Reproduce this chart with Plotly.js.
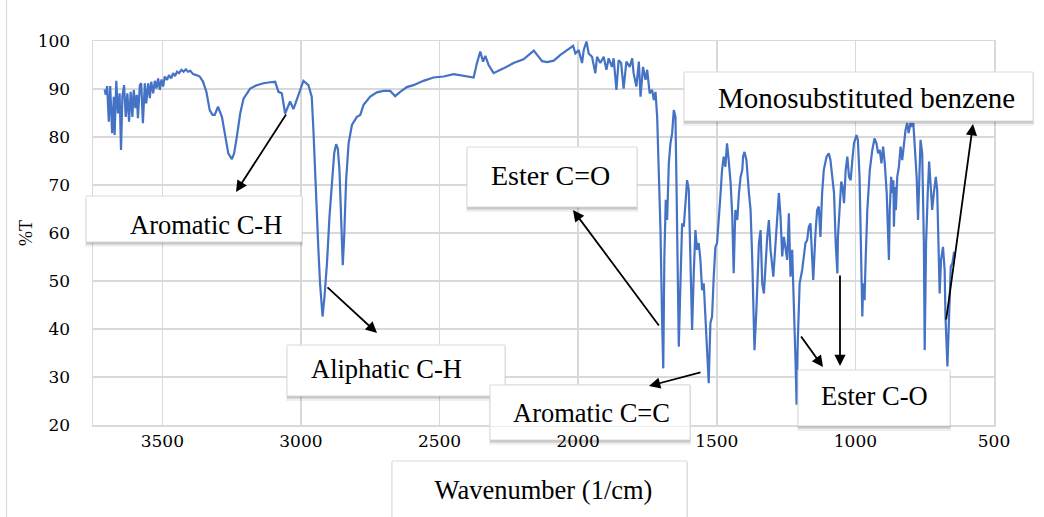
<!DOCTYPE html>
<html>
<head>
<meta charset="utf-8">
<script src="https://cdn.plot.ly/plotly-3.0.1.min.js"></script>
<style>
html,body{margin:0;padding:0;background:#ffffff;}
#chart{width:1044px;height:517px;}
</style>
</head>
<body>
<div id="chart"></div>
<script>
// ---------------- DATA ----------------
const wavenumber = [
3708,3704,3699,3693,3688,3681,3675,3672,3666,3660,3654,3649,3644,3638,3632,3626,3620,3614,3608,3603,
3597,3592,3588,3581,3576,3570,3563,3558,3551,3545,3540,3533,3527,3521,3515,3509,3503,3497,3491,3483,
3476,3468,3461,3454,3447,3440,3431,3423,3415,3407,3399,3389,3377,3365,3353,3341,3329,3319,3311,3299,
3285,3273,3262,3249,3241,3231,3219,3207,3183,3159,3135,3111,3093,3081,3069,3057,3039,3027,3009,2991,
2973,2961,2955,2949,2942,2937,2931,2922,2915,2906,2897,2888,2880,2873,2867,2861,2856,2849,2844,2837,
2828,2816,2798,2786,2774,2750,2726,2702,2678,2660,2642,2618,2594,2558,2522,2485,2449,2413,2377,2365,
2353,2343,2335,2323,2305,2269,2233,2197,
2160,2148,2130,2112,2088,2064,2040,2028,2018,2010,1998,1986,1980,1970,1962,1950,1938,1932,1920,1908,
1898,1890,1878,1872,1862,1854,1845,1836,1826,1814,1805,1800,1790,1781,1775,1766,1757,1751,1742,1733,
1727,1721,
1715,1709,1703,1697,1693,1689,1684,1679,1673,1667,1661,1655,1649,1645,1641,1637,1631,1625,1619,1613,
1607,1601,1595,1589,1583,1577,1571,1565,1559,1553,1547,1541,1535,1529,1523,1517,1511,1505,1499,1493,
1487,1481,1475,1469,1463,1457,1450,1444,1439,
1433,1426,1420,1414,1408,1405,1400,1393,1384,1378,1372,1364,1357,1348,1342,1336,1330,1324,1318,1312,
1306,1296,1288,1282,1276,1270,1264,1258,1252,1246,1240,1234,1228,1222,1216,1212,1208,1201,1192,1186,
1180,1174,1168,1162,1156,1152,1144,1138,1132,1126,1120,1114,1104,1096,1090,1077,1071,1065,
1063,1057,1051,1046,1041,1035,1029,1023,1017,1011,1005,996,991,985,979,975,972,967,963,957,
948,939,931,924,918,912,906,900,894,887,883,879,876,871,867,863,861,857,854,849,
843,837,831,825,819,813,808,801,795,791,786,779,774,769,765,759,753,750,745,739,
734,729,723,717,710,705,699,696,691,684,678,675,668,662,656,650,644
];
const transmittance = [
89.9,88.8,90.6,83.2,90.6,80.8,88.4,80.4,91.7,84.9,89.1,77.3,88.4,90.8,84.2,89.1,83.2,89.4,84.2,89.8,
86.0,88.8,83.9,90.8,91.2,82.9,91.2,87.0,91.2,88.1,91.5,89.1,91.7,90.1,92.2,89.8,92.0,90.5,92.6,91.9,
92.9,92.2,93.3,92.7,93.6,93.3,94.0,93.6,94.1,93.6,93.8,93.1,92.9,92.6,91.5,89.4,85.6,84.6,84.6,86.3,
84.2,80.1,76.6,75.4,76.6,80.1,84.9,88.0,90.1,90.8,91.2,91.4,91.5,89.4,89.1,84.9,87.4,85.8,88.8,91.7,
90.8,88.4,81.5,72.4,64.1,56.5,49.5,42.6,46.7,53.7,63.4,71.0,76.6,78.5,77.6,73.1,63.4,53.3,59.2,71.0,
78.7,82.5,84.2,84.6,86.7,88.4,89.3,89.6,89.6,88.5,89.4,90.4,90.8,91.7,92.4,92.6,93.1,92.8,92.4,95.4,
97.8,95.7,96.9,95.0,93.3,94.3,95.4,96.2,
98.0,97.1,95.8,95.6,95.9,97.1,98.1,98.5,99.0,97.4,98.1,95.4,98.1,99.9,97.4,96.7,93.3,96.7,95.4,96.7,
94.0,96.4,94.6,96.4,89.8,96.0,95.4,90.1,95.7,94.6,96.4,93.3,90.5,95.7,88.4,94.6,91.9,94.0,89.1,89.8,
87.7,89.4,
84.2,72.4,60.6,41.2,31.8,55.1,66.9,62.7,74.5,78.7,80.8,85.6,84.2,69.0,48.1,36.3,49.5,62.0,61.3,65.5,
71.0,69.0,55.1,39.8,51.6,60.6,56.5,57.9,54.4,48.1,49.5,42.6,35.6,28.7,41.2,42.6,50.9,57.1,57.9,62.0,
67.6,73.1,75.9,73.8,78.7,75.2,70.4,63.4,51.6,
64.8,62.7,68.3,71.7,73.1,75.9,76.9,75.2,68.3,64.8,54.4,35.6,44.0,57.9,60.6,49.5,47.4,54.4,59.2,62.7,
56.5,50.9,57.9,64.8,68.3,63.4,55.1,59.2,56.5,54.4,64.1,50.9,56.5,46.7,33.5,24.2,37.0,49.5,52.3,55.1,
57.9,58.5,61.3,62.0,54.4,50.2,59.9,64.8,65.5,59.2,68.3,73.1,75.9,76.6,75.2,68.3,57.9,51.6,
59.2,66.2,70.7,69.6,66.2,73.1,75.9,71.7,71.0,75.2,78.7,80.4,79.4,71.7,54.4,42.6,49.5,46.0,54.4,64.8,
73.1,77.3,79.7,78.7,76.6,77.3,74.5,78.0,74.5,68.3,61.3,54.4,64.8,71.7,68.3,71.0,61.3,69.6,64.8,71.7,
73.8,78.0,75.2,78.0,81.5,82.9,80.8,82.9,82.1,82.9,78.7,71.7,62.7,75.2,79.4,76.6,57.9,35.6,57.9,68.3,
74.9,70.4,64.8,68.3,71.7,69.0,57.9,47.4,54.4,57.1,52.3,42.6,32.2,45.4,53.0,53.7,56.1
];
const xTickVals = [3500, 3000, 2500, 2000, 1500, 1000, 500];
const yTickVals = [20, 30, 40, 50, 60, 70, 80, 90, 100];
const xTitle = "Wavenumber (1/cm)";
const yTitle = "%T";
const labelTexts = ["Aromatic C-H", "Aliphatic C-H", "Ester C=O", "Monosubstituted benzene", "Aromatic C=C", "Ester C-O"];

// ---------------- LAYOUT HELPERS ----------------
const W = 1044, H = 517;
const M = {l: 93, r: 50, t: 41, b: 92};
const PW = W - M.l - M.r, PH = H - M.t - M.b;
const fx = p => (p - M.l) / PW;          // page px -> paper x
const fy = p => (H - M.b - p) / PH;      // page px -> paper y
const SERIF = "Liberation Serif, Times New Roman, serif";
const TICKF = "DejaVu Serif, serif";

// text boxes: [x0, y0, x1, y1] page pixels
const boxes = {
  arCH:  [86, 196, 302, 242],
  aliph: [287, 345, 505, 396],
  estCO: [467, 147, 637, 207],
  mono:  [684, 72, 1033, 121],
  arCC:  [490, 385, 690, 440],
  estCO2:[798, 370, 950, 426],
  wave:  [392, 461, 687, 522]
};
const shapes = [];
// outer chart border (left edge visible)
shapes.push({type:'line', xref:'paper', yref:'paper', layer:'below',
  x0: fx(6.5), x1: fx(6.5), y0: fy(0), y1: fy(517), line:{color:'#d9d9d9', width:1.2}});

function shadow(b, layer){
  const layers = [[ -1, 2, 1, 5, 'rgba(0,0,0,0.06)'], [0, 1, 0.5, 3, 'rgba(0,0,0,0.10)'], [0, 0.5, 0, 1.5, 'rgba(0,0,0,0.12)']];
  layers.forEach(l => shapes.push({type:'rect', xref:'paper', yref:'paper', layer: layer,
    x0: fx(b[0] + l[0]), x1: fx(b[2] + l[2]), y0: fy(b[1] + l[1]), y1: fy(b[3] + l[3]),
    fillcolor: l[4], line:{width:0}}));
}
function box(b, layer){
  shadow(b, layer);
  shapes.push({type:'rect', xref:'paper', yref:'paper', layer: layer,
    x0: fx(b[0]), x1: fx(b[2]), y0: fy(b[1]), y1: fy(b[3]),
    fillcolor:'#ffffff', line:{color:'#dadada', width:1}});
}
['arCH','aliph','estCO','mono','estCO2','wave'].forEach(k => box(boxes[k], 'above'));
// Aromatic C=C box: lower part sits under the tick labels
(function(){
  const b = boxes.arCC;
  box(b, 'below');
  const yb = M.t + PH + 1.5;
  shapes.push({type:'path', xref:'paper', yref:'paper', layer:'above',
    path: `M${fx(b[0])},${fy(yb)} L${fx(b[0])},${fy(b[1])} L${fx(b[2])},${fy(b[1])} L${fx(b[2])},${fy(yb)}`,
    fillcolor:'#ffffff', line:{color:'#dadada', width:1}});
})();

// text labels
const textPos = [
  [206, 225, 26.5],
  [386, 369, 26.5],
  [550, 175, 28],
  [866, 98, 29],
  [591, 413, 26.5],
  [874, 396, 26.5]
];
const annotations = labelTexts.map((t, i) => ({
  xref:'paper', yref:'paper', x: fx(textPos[i][0]), y: fy(textPos[i][1]),
  xanchor:'center', yanchor:'middle', text: t, showarrow:false,
  font:{family: SERIF, size: textPos[i][2], color:'#000000'}
}));

// arrows: [tailX, tailY, headX, headY]
const arrows = [
  [287, 113, 236, 192],
  [326, 286, 377, 333],
  [660, 327, 573, 210],
  [702, 372, 649, 386],
  [800, 335, 823, 367],
  [840, 274, 840, 366],
  [946, 321, 973, 124]
];
arrows.forEach(a => annotations.push({
  xref:'paper', yref:'paper', x: fx(a[2]), y: fy(a[3]),
  ax: a[0] - a[2], ay: a[1] - a[3], text:'', showarrow:true,
  arrowhead:2, arrowsize:1.25, arrowwidth:1.8, arrowcolor:'#000000'
}));

const trace = {
  x: wavenumber, y: transmittance, type:'scatter', mode:'lines',
  line:{color:'#4472C4', width:2.2}, hoverinfo:'skip'
};

const layout = {
  width: W, height: H,
  margin:{l:M.l, r:M.r, t:M.t, b:M.b, pad:0},
  paper_bgcolor:'#ffffff', plot_bgcolor:'#ffffff',
  showlegend:false,
  xaxis:{
    range:[3750, 500], tickmode:'array', tickvals: xTickVals, ticktext: xTickVals.map(String),
    showgrid:true, gridcolor:'#d9d9d9', gridwidth:1.5, zeroline:false,
    showline:true, linecolor:'#d9d9d9', linewidth:1.5, mirror:true,
    ticks:'', ticklabelstandoff: 0,
    tickfont:{family: TICKF, size:17, color:'#000000'},
    title:{text: xTitle, font:{family: SERIF, size:26.5, color:'#000000'}, standoff: 30},
    automargin:false, fixedrange:true
  },
  yaxis:{
    range:[20, 100], tickmode:'array', tickvals: yTickVals, ticktext: yTickVals.map(String),
    showgrid:true, gridcolor:'#d9d9d9', gridwidth:1.5, zeroline:false,
    showline:true, linecolor:'#d9d9d9', linewidth:1.5, mirror:true,
    ticks:'', ticklabelstandoff: 18,
    tickfont:{family: TICKF, size:17, color:'#000000'},
    title:{text: yTitle, font:{family: SERIF, size:18, color:'#000000'}, standoff: 0},
    automargin:false, fixedrange:true
  },
  shapes: shapes,
  annotations: annotations
};

Plotly.newPlot('chart', [trace], layout, {displayModeBar:false, staticPlot:true});
</script>
</body>
</html>
